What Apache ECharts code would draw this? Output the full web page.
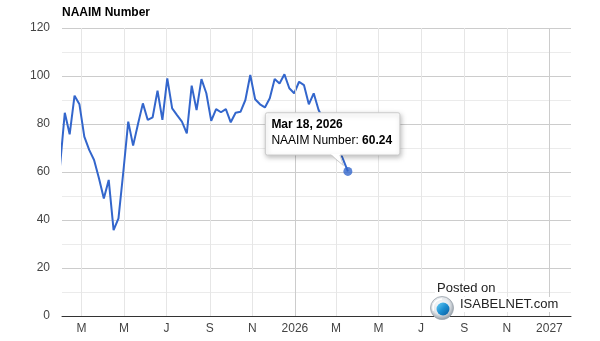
<!DOCTYPE html>
<html>
<head>
<meta charset="utf-8">
<script src="https://cdn.jsdelivr.net/npm/echarts@6/dist/echarts.min.js"></script>
<style>
  html, body { margin: 0; padding: 0; background: #fff; }
  #chart { width: 600px; height: 341px; }
</style>
</head>
<body>
<div id="chart"></div>
<script>
// Weekly NAAIM Exposure Index readings (survey dates, Wednesdays)
const weekDates = [
  '2025-01-29',
  '2025-02-05', '2025-02-12', '2025-02-19', '2025-02-26',
  '2025-03-05', '2025-03-12', '2025-03-19', '2025-03-26',
  '2025-04-02', '2025-04-09', '2025-04-16', '2025-04-23', '2025-04-30',
  '2025-05-07', '2025-05-14', '2025-05-21', '2025-05-28',
  '2025-06-04', '2025-06-11', '2025-06-18', '2025-06-25',
  '2025-07-02', '2025-07-09', '2025-07-16', '2025-07-23', '2025-07-30',
  '2025-08-06', '2025-08-13', '2025-08-20', '2025-08-27',
  '2025-09-03', '2025-09-10', '2025-09-17', '2025-09-24',
  '2025-10-01', '2025-10-08', '2025-10-15', '2025-10-22', '2025-10-29',
  '2025-11-05', '2025-11-12', '2025-11-19', '2025-11-26',
  '2025-12-03', '2025-12-10', '2025-12-17', '2025-12-24', '2025-12-31',
  '2026-01-07', '2026-01-14', '2026-01-21', '2026-01-28',
  '2026-02-04', '2026-02-11', '2026-02-18', '2026-02-25',
  '2026-03-04', '2026-03-11', '2026-03-18'
];
const naaimValues = [
  62.0,
  84.7, 75.7, 91.8, 88.2,
  74.7, 69.2, 65.0, 57.4,
  49.0, 56.7, 35.8, 40.7, 60.2,
  81.0, 71.0, 80.0, 88.6,
  81.7, 82.8, 93.9, 81.7,
  99.0, 86.5, 83.7, 81.0, 76.1,
  96.0, 85.8, 98.7, 92.8,
  81.3, 86.2, 84.9, 86.2,
  80.7, 84.7, 85.1, 90.0, 100.4,
  90.3, 88.2, 86.9, 90.7,
  98.7, 96.9, 100.7, 94.9, 92.8,
  97.6, 96.2, 88.2, 92.8,
  85.8, 81.9, 78.6, 74.8,
  70.3, 65.4, 60.24
];

// Time axis window and its labelled dates
const axisStart = '2025-02-01';
const axisEnd = '2027-02-01';
const tickDates = [
  '2025-03-01', '2025-05-01', '2025-07-01', '2025-09-01', '2025-11-01', '2026-01-01',
  '2026-03-01', '2026-05-01', '2026-07-01', '2026-09-01', '2026-11-01', '2027-01-01'
];
const tickLabels = ['M', 'M', 'J', 'S', 'N', '2026', 'M', 'M', 'J', 'S', 'N', '2027'];
const yearDates = ['2026-01-01', '2027-01-01'];

const seriesName = 'NAAIM Number';
const FONT = 'Arial, "Liberation Sans", sans-serif';
const LINE_COLOR = '#3366cc';

const ts = s => Date.parse(s + 'T00:00:00Z');
const tickTs = tickDates.map(ts);
const labelByTs = {};
tickTs.forEach((t, i) => { labelByTs[t] = tickLabels[i]; });

const points = weekDates.map((d, i) => [ts(d), naaimValues[i]]);
const lastPoint = points[points.length - 1];

const MONTHS = ['Jan', 'Feb', 'Mar', 'Apr', 'May', 'Jun', 'Jul', 'Aug', 'Sep', 'Oct', 'Nov', 'Dec'];
function fmtDate(t) {
  const d = new Date(t);
  return MONTHS[d.getUTCMonth()] + ' ' + d.getUTCDate() + ', ' + d.getUTCFullYear();
}

const chart = echarts.init(document.getElementById('chart'), null, { renderer: 'canvas' });

chart.setOption({
  animation: false,
  backgroundColor: '#fff',
  title: {
    text: seriesName,
    left: 62,
    top: 7,
    padding: 0,
    textStyle: { fontSize: 12, fontWeight: 'bold', color: '#000', fontFamily: FONT }
  },
  grid: { left: 62, right: 29, top: 28, bottom: 25 },
  xAxis: {
    type: 'value',
    min: ts(axisStart),
    max: ts(axisEnd),
    axisLine: { show: true, onZero: false, lineStyle: { color: '#333', width: 1 } },
    axisTick: { show: false, customValues: tickTs },
    axisLabel: {
      customValues: tickTs,
      formatter: v => labelByTs[v] || '',
      color: '#444',
      fontSize: 12,
      fontFamily: FONT,
      margin: 7
    },
    splitLine: { show: true, lineStyle: { color: '#e6e6e6', width: 1 } }
  },
  yAxis: {
    type: 'value',
    min: 0,
    max: 120,
    interval: 20,
    axisLine: { show: false },
    axisTick: { show: false },
    axisLabel: { color: '#444', fontSize: 12, fontFamily: FONT, margin: 12 },
    splitLine: { show: true, lineStyle: { color: '#cccccc', width: 1 } },
    minorTick: { show: false, splitNumber: 2 },
    minorSplitLine: { show: true, lineStyle: { color: '#ebebeb', width: 1 } }
  },
  series: [
    {
      // year boundaries get a stronger gridline
      type: 'line',
      data: [],
      z: 1,
      silent: true,
      markLine: {
        silent: true,
        symbol: 'none',
        label: { show: false },
        lineStyle: { color: '#cccccc', type: 'solid', width: 1 },
        data: yearDates.map(d => ({ xAxis: ts(d) }))
      }
    },
    {
      name: seriesName,
      type: 'line',
      data: points,
      showSymbol: false,
      z: 3,
      lineStyle: { color: LINE_COLOR, width: 2 },
      itemStyle: { color: LINE_COLOR }
    },
    {
      type: 'scatter',
      data: [lastPoint],
      symbol: 'circle',
      symbolSize: 9,
      z: 4,
      itemStyle: { color: LINE_COLOR }
    }
  ]
});

// Callout for the latest reading, anchored on the plotted point
const p = chart.convertToPixel({ seriesIndex: 1 }, lastPoint);
const px = p[0], py = p[1];
const boxL = px - 82.5, boxT = py - 58.7, boxW = 134.5, boxH = 42.3;
const boxB = boxT + boxH;
const TOP = 100;

chart.setOption({
  graphic: [
    {
      type: 'rect',
      z: TOP,
      shape: { x: boxL, y: boxT, width: boxW, height: boxH, r: 2 },
      style: {
        fill: '#fff', stroke: '#cccccc', lineWidth: 1,
        shadowBlur: 5, shadowOffsetX: 1, shadowOffsetY: 2, shadowColor: 'rgba(0,0,0,0.25)'
      }
    },
    {
      type: 'polygon',
      z: TOP + 1,
      shape: { points: [[px - 17, boxB - 1], [px - 8, boxB - 1], [px - 4.5, py - 6]] },
      style: { fill: '#fff', stroke: null }
    },
    {
      type: 'polyline',
      z: TOP + 1,
      shape: { points: [[px - 17, boxB], [px - 4.5, py - 6], [px - 8, boxB]] },
      style: { stroke: '#cccccc', lineWidth: 1, fill: null }
    },
    {
      type: 'text',
      z: TOP + 2,
      x: boxL + 6, y: boxT + 5.5,
      style: {
        text: fmtDate(lastPoint[0]),
        fontSize: 12, fontWeight: 'bold', fontFamily: FONT, fill: '#000',
        verticalAlign: 'top'
      }
    },
    {
      type: 'text',
      z: TOP + 2,
      x: boxL + 6, y: boxT + 21.5,
      style: {
        text: '{n|' + seriesName + ': }{b|' + lastPoint[1].toFixed(2) + '}',
        verticalAlign: 'top',
        rich: {
          n: { fontSize: 12, fontFamily: FONT, fill: '#000' },
          b: { fontSize: 12, fontFamily: FONT, fontWeight: 'bold', fill: '#000' }
        }
      }
    },
    {
      type: 'text',
      z: 90,
      x: 435, y: 281,
      style: {
        text: 'Posted on', fontSize: 13, fontFamily: FONT, fill: '#222',
        backgroundColor: '#fff', padding: [1, 2, 1, 2], verticalAlign: 'top'
      }
    },
    {
      type: 'text',
      z: 90,
      x: 458, y: 297,
      style: {
        text: 'ISABELNET.com', fontSize: 13, fontFamily: FONT, fill: '#222',
        backgroundColor: '#fff', padding: [1, 2, 1, 2], verticalAlign: 'top'
      }
    },
    {
      type: 'circle',
      z: 91,
      shape: { cx: 442, cy: 308, r: 11.5 },
      style: {
        fill: new echarts.graphic.RadialGradient(0.45, 0.4, 0.6, [
          { offset: 0, color: '#ffffff' },
          { offset: 0.6, color: '#e3e7eb' },
          { offset: 1, color: '#8f99a3' }
        ]),
        stroke: '#9aa3ac', lineWidth: 0.8
      }
    },
    {
      type: 'circle',
      z: 92,
      shape: { cx: 443, cy: 309, r: 6.5 },
      style: {
        fill: new echarts.graphic.LinearGradient(0, 0, 1, 1, [
          { offset: 0, color: '#6fd0f5' },
          { offset: 0.5, color: '#1b8fd2' },
          { offset: 1, color: '#0b5a9c' }
        ])
      }
    },
    {
      type: 'arc',
      z: 93,
      shape: { cx: 442, cy: 308, r: 9, startAngle: Math.PI * 0.9, endAngle: Math.PI * 1.5 },
      style: { stroke: '#ffffff', lineWidth: 1.5, fill: null }
    }
  ]
});
</script>
</body>
</html>
